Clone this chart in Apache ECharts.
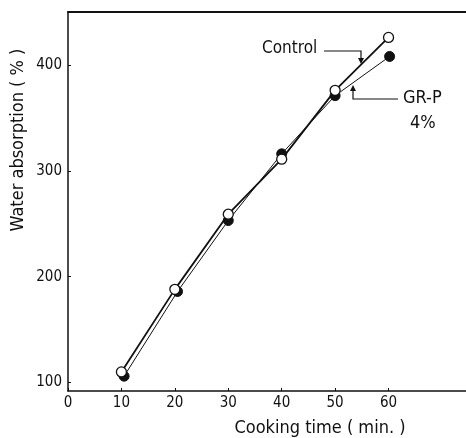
<!DOCTYPE html>
<html><head><meta charset="utf-8">
<script src="https://cdn.jsdelivr.net/npm/echarts@6/dist/echarts.min.js"></script>
<style>html,body{margin:0;padding:0;background:#fff}#c{width:466px;height:438px}</style>
</head><body><div id="c"></div>
<script>
var xTicks = [0, 10, 20, 30, 40, 50, 60];
var yTicks = [100, 200, 300, 400];
var controlTime = [10, 20, 30, 40, 50, 60];
var controlValues = [110, 188, 259, 311, 376, 426];
var grpTime = [10.5, 20.5, 30, 40, 50, 60.2];
var grpValues = [106, 186, 253, 316, 371, 408];

var F = '"DejaVu Sans Condensed","DejaVu Sans",sans-serif';
var chart = echarts.init(document.getElementById('c'));
function pairs(xs, ys){ return xs.map(function(x,i){return [x, ys[i]];}); }
chart.setOption({
  backgroundColor: '#fff',
  animation: false,
  grid: {left: 68, top: 12, width: 398, height: 379},
  xAxis: [{
    type: 'value', min: 0, max: 74.5,
    axisLine: {show: true, lineStyle: {color: '#111', width: 1.5}},
    axisTick: {show: true, inside: true, length: 3, customValues: xTicks, lineStyle: {color: '#111'}},
    axisLabel: {customValues: xTicks, color: '#111', fontSize: 15, fontFamily: F, margin: 5},
    splitLine: {show: false}
  }, {
    type: 'value', min: 0, max: 74.5, position: 'top',
    axisLine: {show: true, lineStyle: {color: '#111', width: 2}},
    axisTick: {show: false}, axisLabel: {show: false}, splitLine: {show: false}
  }],
  yAxis: {
    type: 'value', min: 92, max: 450,
    axisLine: {show: true, lineStyle: {color: '#111', width: 1.5}},
    axisTick: {show: true, inside: true, length: 3, customValues: yTicks, lineStyle: {color: '#111'}},
    axisLabel: {customValues: yTicks, color: '#111', fontSize: 15, fontFamily: F, margin: 6},
    splitLine: {show: false}
  },
  series: [{
    name: 'Control', type: 'line', data: pairs(controlTime, controlValues),
    symbol: 'circle', symbolSize: 10,
    itemStyle: {color: '#fff', borderColor: '#111', borderWidth: 1.3},
    lineStyle: {color: '#111', width: 1.8}, z: 3
  }, {
    name: 'GR-P 4%', type: 'line', data: pairs(grpTime, grpValues),
    symbol: 'circle', symbolSize: 10,
    itemStyle: {color: '#111', borderColor: '#111', borderWidth: 1},
    lineStyle: {color: '#111', width: 1}, z: 2
  }],
  graphic: [
    {type: 'text', x: 320, y: 428, style: {text: 'Cooking time ( min. )', fontSize: 18, fontFamily: F, fill: '#111', align: 'center', verticalAlign: 'middle'}},
    {type: 'text', x: 18, y: 140, rotation: Math.PI / 2, style: {text: 'Water absorption ( % )', fontSize: 18, fontFamily: F, fill: '#111', align: 'center', verticalAlign: 'middle'}},
    {type: 'text', left: 262, top: 40, style: {text: 'Control', fontSize: 17, fontFamily: F, fill: '#111'}},
    {type: 'polyline', shape: {points: [[324, 51], [361, 51], [361, 60]]}, style: {stroke: '#111', lineWidth: 1.2, fill: null}},
    {type: 'polygon', shape: {points: [[358, 58], [364, 58], [361, 64]]}, style: {fill: '#111'}},
    {type: 'polyline', shape: {points: [[398, 99], [353, 99], [353, 90]]}, style: {stroke: '#111', lineWidth: 1.2, fill: null}},
    {type: 'polygon', shape: {points: [[350, 91], [356, 91], [353, 85]]}, style: {fill: '#111'}},
    {type: 'text', left: 403, top: 89, style: {text: 'GR-P', fontSize: 18, fontFamily: F, fill: '#111'}},
    {type: 'text', left: 410, top: 114, style: {text: '4%', fontSize: 18, fontFamily: F, fill: '#111'}}
  ]
});
</script></body></html>
